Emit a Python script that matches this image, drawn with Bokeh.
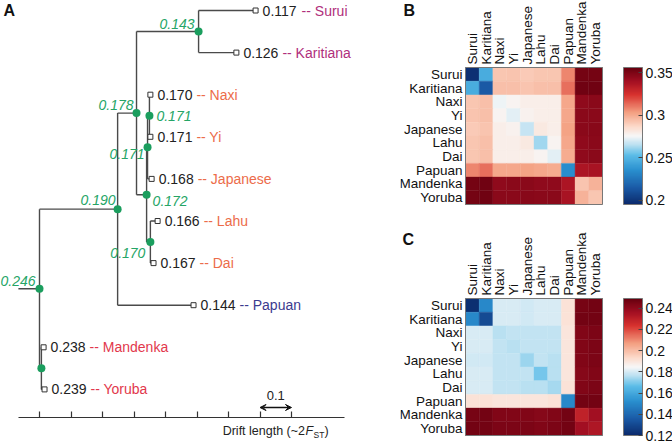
import numpy as np
from bokeh.plotting import figure
from bokeh.models import (Range1d, LinearAxis, FixedTicker, Arrow, VeeHead,
                          ColumnDataSource, LinearColorMapper, ColorBar,
                          CustomJSTickFormatter)
from bokeh.layouts import row, column
from bokeh.core.properties import value
from bokeh.embed import file_html
from bokeh.resources import INLINE

# ---------------- data : panel A (drift tree) ----------------
tip_names = ["Surui", "Karitiana", "Naxi", "Yi", "Japanese", "Lahu", "Dai",
             "Papuan", "Mandenka", "Yoruba"]
tip_labels = ["0.117", "0.126", "0.170", "0.171", "0.168", "0.166", "0.167",
              "0.144", "0.238", "0.239"]
tip_drift = [0.686, 0.625, 0.352, 0.352, 0.356, 0.375, 0.362, 0.489, 0.013, 0.016]
tip_group = ["amer", "amer", "easia", "easia", "easia", "easia", "easia",
             "ocean", "afr", "afr"]

node_ids = ["n143", "n171a", "n171b", "n170", "n172", "n178", "n190", "nafr", "root"]
node_labels = ["0.143", "0.171", "0.171", "0.170", "0.172", "0.178", "0.190", "", "0.246"]
node_drift = [0.505, 0.349, 0.343, 0.352, 0.340, 0.308, 0.248, 0.006, 0.0]
node_children = [["Surui", "Karitiana"], ["Naxi", "Yi"], ["n171a", "Japanese"],
                 ["Lahu", "Dai"], ["n171b", "n170"], ["n143", "n172"],
                 ["n178", "Papuan"], ["Mandenka", "Yoruba"], ["n190", "nafr"]]
root_edge = -0.067
drift_ticks = [0.0, 0.1, 0.2, 0.3, 0.4, 0.5, 0.6, 0.7, 0.8]
axis_bounds = [-0.067, 0.968]
scale_bar = [0.7, 0.8]
scale_text = "0.1"
axis_title = ["Drift length (~2", "F", "ST", ")"]

# ---------------- data : panels B and C ----------------
pops = ["Surui", "Karitiana", "Naxi", "Yi", "Japanese", "Lahu", "Dai",
        "Papuan", "Mandenka", "Yoruba"]
fst_b = [
    [0.198, 0.246, 0.292, 0.293, 0.291, 0.292, 0.292, 0.308, 0.352, 0.352],
    [0.246, 0.214, 0.294, 0.294, 0.293, 0.294, 0.294, 0.312, 0.353, 0.353],
    [0.292, 0.294, 0.274, 0.277, 0.279, 0.279, 0.279, 0.301, 0.345, 0.346],
    [0.293, 0.294, 0.277, 0.272, 0.278, 0.279, 0.279, 0.301, 0.346, 0.346],
    [0.291, 0.293, 0.279, 0.278, 0.267, 0.281, 0.279, 0.302, 0.346, 0.347],
    [0.292, 0.294, 0.279, 0.279, 0.281, 0.262, 0.277, 0.301, 0.345, 0.346],
    [0.292, 0.294, 0.279, 0.279, 0.279, 0.277, 0.272, 0.300, 0.345, 0.346],
    [0.308, 0.312, 0.301, 0.301, 0.302, 0.301, 0.300, 0.234, 0.337, 0.338],
    [0.352, 0.353, 0.345, 0.346, 0.346, 0.345, 0.345, 0.337, 0.293, 0.298],
    [0.352, 0.353, 0.346, 0.346, 0.347, 0.346, 0.346, 0.338, 0.298, 0.292],
]
fst_c = [
    [0.122, 0.150, 0.180, 0.180, 0.179, 0.180, 0.180, 0.191, 0.245, 0.246],
    [0.150, 0.131, 0.180, 0.180, 0.179, 0.180, 0.180, 0.191, 0.246, 0.246],
    [0.180, 0.180, 0.176, 0.177, 0.177, 0.177, 0.177, 0.190, 0.243, 0.244],
    [0.180, 0.180, 0.177, 0.176, 0.177, 0.177, 0.177, 0.190, 0.243, 0.244],
    [0.179, 0.179, 0.177, 0.177, 0.173, 0.177, 0.176, 0.190, 0.243, 0.244],
    [0.180, 0.180, 0.177, 0.177, 0.177, 0.169, 0.176, 0.190, 0.242, 0.243],
    [0.180, 0.180, 0.177, 0.177, 0.176, 0.176, 0.174, 0.191, 0.243, 0.244],
    [0.191, 0.191, 0.190, 0.190, 0.190, 0.190, 0.191, 0.150, 0.246, 0.246],
    [0.245, 0.246, 0.243, 0.243, 0.243, 0.242, 0.243, 0.246, 0.229, 0.236],
    [0.246, 0.246, 0.244, 0.244, 0.244, 0.243, 0.244, 0.246, 0.236, 0.233],
]
range_b = [0.195, 0.356]
range_c = [0.12, 0.249]
ticks_b = [0.2, 0.25, 0.3, 0.35]
ticks_c = [0.12, 0.14, 0.16, 0.18, 0.2, 0.22, 0.24]

# ---------------- style ----------------
FONT = "Liberation Sans"
group_color = {"amer": "#b02f7c", "easia": "#ec6c4a", "ocean": "#3b3b8e", "afr": "#e2384c"}
node_green = "#1b9e5e"
label_green = "#25a566"
branch_col = "#4a4a4a"

cmap_stops = [0.0, 0.12, 0.25, 0.36, 0.44, 0.5, 0.57, 0.67, 0.8, 0.9, 1.0]
cmap_cols = ["#0b2a6b", "#1a5aa6", "#2a90cf", "#5cbde8", "#bfe2f2", "#f7f7f7",
             "#fcd9c9", "#f4a183", "#d8332f", "#a30f22", "#67000f"]


def build_palette(n=256):
    rgb = np.array([[int(c[i:i + 2], 16) for i in (1, 3, 5)] for c in cmap_cols], float)
    out = []
    for tt in np.linspace(0, 1, n):
        r, g, b = (np.interp(tt, cmap_stops, rgb[:, k]) for k in range(3))
        out.append("#%02x%02x%02x" % (int(round(r)), int(round(g)), int(round(b))))
    return out


PAL = build_palette()

# ---------------- panel A ----------------
PX = 315.0          # pixels per drift unit
X0 = 39.0           # root position inside canvas (px)
W_L = 400
H_A = 421
H_S = 443 - H_A
ROW = 42.1
TOP = 10.0
AXIS_Y = 417.0

pA = figure(width=W_L, height=H_A, output_backend="svg", toolbar_location=None,
            x_range=Range1d(-X0 / PX, (W_L - X0) / PX),
            y_range=Range1d((AXIS_Y - TOP) / ROW, (0 - TOP) / ROW),
            x_axis_type=None, y_axis_type=None,
            min_border_left=0, min_border_right=0, min_border_top=0,
            min_border_bottom=H_A - int(AXIS_Y))
pA.outline_line_color = None

pos = {}
for i, nm in enumerate(tip_names):
    pos[nm] = (tip_drift[i], float(i))
for nid, nx, ch in zip(node_ids, node_drift, node_children):
    cy = [pos[c][1] for c in ch]
    pos[nid] = (nx, sum(cy) / len(cy))

xs, ys = [], []
for nid, ch in zip(node_ids, node_children):
    nx, ny = pos[nid]
    cy = [pos[c][1] for c in ch]
    xs.append([nx, nx]); ys.append([min(cy), max(cy)])
    for c in ch:
        cx, cyy = pos[c]
        xs.append([nx, cx]); ys.append([cyy, cyy])
rx, ry = pos["root"]
xs.append([root_edge, rx]); ys.append([ry, ry])
pA.multi_line(xs, ys, line_color=branch_col, line_width=1.4)

tx = [pos[n][0] for n in tip_names]
ty = [pos[n][1] for n in tip_names]
pA.scatter(tx, ty, marker="square", size=5, fill_color="white",
           line_color="#333333", line_width=1)
nx_ = [pos[n][0] for n in node_ids]
ny_ = [pos[n][1] for n in node_ids]
pA.scatter(nx_, ny_, size=8, fill_color=node_green, line_color=None)

tip_src = ColumnDataSource(dict(x=tx, y=ty, lab=tip_labels,
                                name=["-- " + n for n in tip_names],
                                col=[group_color[g] for g in tip_group]))
pA.text(x="x", y="y", text="lab", source=tip_src, x_offset=7, text_baseline="middle",
        text_font=value(FONT), text_font_size="14px", text_color="#222222")
pA.text(x="x", y="y", text="name", source=tip_src, x_offset=46, text_baseline="middle",
        text_font=value(FONT), text_font_size="14px", text_color="col")

node_align = ["right", "left", "right", "right", "left", "right", "right", "left", "right"]
node_dx = [-4, 7, -3, -5, 6, -3, -2, 0, -4]
node_dy = [-8, 0, 7, 11, 6, -8, -9, 0, -8]
node_src = ColumnDataSource(dict(x=nx_, y=ny_, lab=node_labels, al=node_align,
                                 dx=node_dx, dy=node_dy))
pA.text(x="x", y="y", text="lab", source=node_src, x_offset="dx", y_offset="dy",
        text_align="al", text_baseline="middle", text_font=value(FONT),
        text_font_size="14px", text_font_style="italic", text_color=label_green)

ax = LinearAxis(ticker=FixedTicker(ticks=drift_ticks), bounds=tuple(axis_bounds),
                major_tick_in=6, major_tick_out=0, minor_tick_line_color=None,
                formatter=CustomJSTickFormatter(code="return ''"),
                major_label_standoff=0, major_label_text_font_size="1px",
                axis_line_color="#333333", major_tick_line_color="#333333",
                axis_line_width=1.2, major_tick_line_width=1.2)
pA.add_layout(ax, "below")

sb_y = (407 - TOP) / ROW
pA.add_layout(Arrow(x_start=scale_bar[0], x_end=scale_bar[1], y_start=sb_y, y_end=sb_y,
                    start=VeeHead(size=6, line_color="#111111", fill_color="#111111"),
                    end=VeeHead(size=6, line_color="#111111", fill_color="#111111"),
                    line_color="#111111", line_width=1.3))
pA.text(x=[sum(scale_bar) / 2], y=[(395 - TOP) / ROW], text=[scale_text], text_align="center",
        text_baseline="middle", text_font=value(FONT), text_font_size="13px",
        text_color="#222222")
pA.text(x=[(3 - X0) / PX], y=[(9.5 - TOP) / ROW], text=["A"], text_baseline="middle",
        text_font=value(FONT), text_font_size="16px", text_font_style="bold",
        text_color="#111111")

# strip below the tree for the axis title
pS = figure(width=W_L, height=H_S, output_backend="svg", toolbar_location=None,
            x_range=Range1d(-X0 / PX, (W_L - X0) / PX), y_range=Range1d(H_S, 0),
            x_axis_type=None, y_axis_type=None, min_border=0)
pS.outline_line_color = None
pS.xgrid.visible = False
pS.ygrid.visible = False
x_t = (305 - X0) / PX       # anchor at the start of the italic F
y_t = 430 - H_A
t_dx = [-0.5, 0, 8, 19]
t_dy = [0, 0, 4, 0]
t_fs = ["12.5px", "12.5px", "8.5px", "12.5px"]
t_st = ["normal", "italic", "normal", "normal"]
t_al = ["right", "left", "left", "left"]
for txt, dx, dy, fs, st, al in zip(axis_title, t_dx, t_dy, t_fs, t_st, t_al):
    pS.text(x=[x_t], y=[y_t], text=[txt], x_offset=dx, y_offset=dy, text_align=al,
            text_baseline="middle", text_font=value(FONT), text_font_size=fs,
            text_font_style=st, text_color="#222222")

# ---------------- panels B and C ----------------
W_R = 672 - W_L
CELL = 13.7
GRID_X = 465 - W_L     # grid left inside right canvases
CB_X = 623 - W_L       # colour bar left inside right canvases


def make_heat(mat, rng, ticks, h, grid_top, letter, letter_xy):
    n = len(pops)
    mapper = LinearColorMapper(palette=PAL, low=rng[0], high=rng[1])
    hx, hy, hv = [], [], []
    for i in range(n):
        for j in range(n):
            hx.append(j + 0.5); hy.append(i + 0.5); hv.append(mat[i][j])
    src = ColumnDataSource(dict(x=hx, y=hy, v=hv))
    p = figure(width=W_R, height=h, output_backend="svg", toolbar_location=None,
               x_range=Range1d(-GRID_X / CELL, (W_R - GRID_X) / CELL),
               y_range=Range1d((h - grid_top) / CELL, -grid_top / CELL),
               x_axis_type=None, y_axis_type=None, min_border=0)
    p.outline_line_color = None
    p.xgrid.visible = False
    p.ygrid.visible = False
    p.rect(x="x", y="y", width=1, height=1, source=src,
           fill_color={"field": "v", "transform": mapper},
           line_color={"field": "v", "transform": mapper}, line_width=0.4)
    p.rect(x=[n / 2], y=[n / 2], width=n, height=n, fill_color=None,
           line_color="#777777", line_width=1)
    mid = [k + 0.5 for k in range(n)]
    p.text(x=[0] * n, y=mid, text=pops, x_offset=-3, text_align="right",
           text_baseline="middle", text_font=value(FONT), text_font_size="13.5px",
           text_color="#111111")
    p.text(x=mid, y=[0] * n, text=pops, y_offset=-3, angle=np.pi / 2,
           text_align="left", text_baseline="middle", text_font=value(FONT),
           text_font_size="13.5px", text_color="#111111")
    p.text(x=[(letter_xy[0] - GRID_X) / CELL], y=[(letter_xy[1] - grid_top) / CELL],
           text=[letter], text_baseline="middle", text_font=value(FONT),
           text_font_size="16px", text_font_style="bold", text_color="#111111")
    cb = ColorBar(color_mapper=mapper, ticker=FixedTicker(ticks=ticks),
                  formatter=CustomJSTickFormatter(code="return tick.toString()"),
                  width=19, height=int(round(n * CELL)),
                  location=(CB_X, int(round(h - grid_top - n * CELL))),
                  padding=0, margin=0, background_fill_color=None,
                  major_tick_in=4, major_tick_out=0, major_tick_line_color="#444444",
                  minor_tick_line_color=None, bar_line_color="#777777",
                  label_standoff=3, major_label_text_font=FONT,
                  major_label_text_font_size="14px", major_label_text_color="#111111")
    p.add_layout(cb, "center")
    return p


H_B = 221
H_C = 443 - H_B
pB = make_heat(fst_b, range_b, ticks_b, H_B, 67, "B", (403 - W_L, 9.5))
pC = make_heat(fst_c, range_c, ticks_c, H_C, 298 - H_B, "C", (402 - W_L, 239 - H_B))

layout = row(column(pA, pS), column(pB, pC))
open("out.html", "w").write(file_html(layout, INLINE))
